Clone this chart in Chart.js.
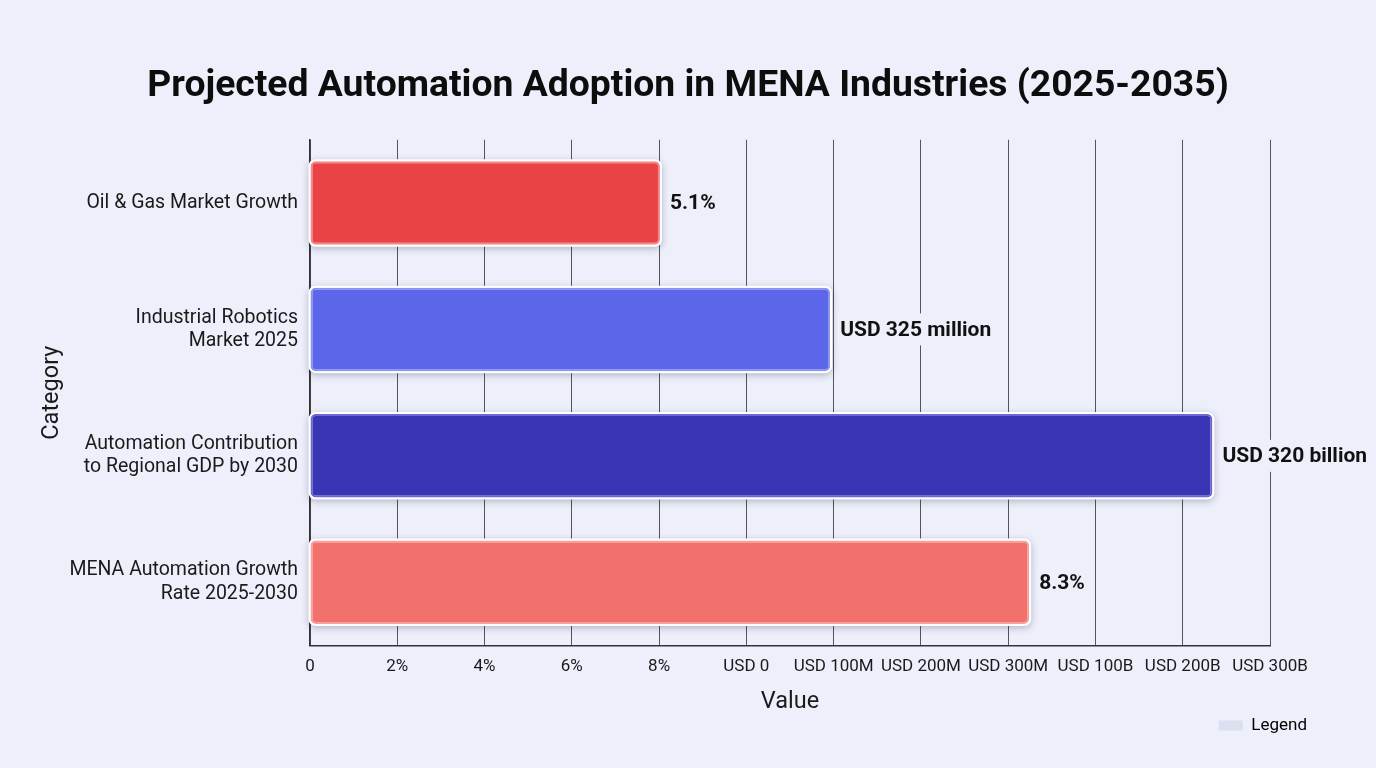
<!DOCTYPE html>
<html>
<head>
<meta charset="utf-8">
<script src="https://cdn.jsdelivr.net/npm/chart.js@4"></script>
<style>
    html, body { margin: 0; padding: 0; background: #edf0fb; }
    #wrap { width: 1376px; height: 768px; }
</style>
</head>
<body>
<div id="wrap"><canvas id="automationChart" width="1376" height="768"></canvas></div>
<script>
// Categories (multi-line labels as they appear on the y axis)
const categories = [
    'Oil & Gas Market Growth',
    ['Industrial Robotics', 'Market 2025'],
    ['Automation Contribution', 'to Regional GDP by 2030'],
    ['MENA Automation Growth', 'Rate 2025-2030']
];

// The x axis is a mixed scale: 12 evenly spaced ticks with these labels
const tickLabels = ['0', '2%', '4%', '6%', '8%', 'USD 0', 'USD 100M', 'USD 200M', 'USD 300M', 'USD 100B', 'USD 200B', 'USD 300B'];

// Bar lengths, in tick positions of the mixed axis
const barPositions = [4.01, 5.96, 10.34, 8.24];

// Text printed next to each bar
const valueLabels = ['5.1%', 'USD 325 million', 'USD 320 billion', '8.3%'];

const barColors = ['#e94346', '#5b66e9', '#3a35b4', '#f2716d'];
const barBorders = ['#f4878a', '#8a92f2', '#6b68cf', '#f8a09d'];

const pageBg = '#edf0fb';

Chart.defaults.font.family = 'Roboto, "Noto Sans", sans-serif';
Chart.defaults.color = '#1a1a1a';

// White halo with a soft drop shadow behind every bar
const barHalo = {
    id: 'barHalo',
    beforeDatasetsDraw(chart) {
        const ctx = chart.ctx;
        const meta = chart.getDatasetMeta(0);
        ctx.save();
        ctx.shadowColor = 'rgba(40, 40, 70, 0.3)';
        ctx.shadowBlur = 7;
        ctx.shadowOffsetY = 2;
        ctx.fillStyle = '#ffffff';
        meta.data.forEach(bar => {
            const left = Math.min(bar.base, bar.x) - 2;
            const top = bar.y - bar.height / 2 - 2;
            ctx.beginPath();
            ctx.roundRect(left, top, Math.abs(bar.x - bar.base) + 4, bar.height + 4, 7);
            ctx.fill();
        });
        ctx.restore();
    }
};

// Value text at the end of each bar, on a patch of page colour
const valueText = {
    id: 'valueText',
    afterDatasetsDraw(chart) {
        const ctx = chart.ctx;
        const meta = chart.getDatasetMeta(0);
        ctx.save();
        ctx.font = 'bold 21px Roboto, sans-serif';
        ctx.textBaseline = 'middle';
        ctx.textAlign = 'left';
        meta.data.forEach((bar, i) => {
            const text = valueLabels[i];
            const x = bar.x + 10;
            const w = ctx.measureText(text).width;
            ctx.fillStyle = pageBg;
            ctx.fillRect(x - 2, bar.y - 16, w + 4, 32);
            ctx.fillStyle = '#111111';
            ctx.fillText(text, x, bar.y + 1);
        });
        ctx.restore();
    }
};

const ctx = document.getElementById('automationChart').getContext('2d');

new Chart(ctx, {
    type: 'bar',
    data: {
        labels: categories,
        datasets: [{
            label: 'Value',
            data: barPositions,
            backgroundColor: barColors,
            borderColor: barBorders,
            borderWidth: 2,
            borderRadius: 5,
            borderSkipped: false,
            barPercentage: 0.66,
            categoryPercentage: 1
        }]
    },
    options: {
        indexAxis: 'y',
        responsive: false,
        animation: false,
        layout: {
            padding: { left: 66, right: 66, top: 10, bottom: 24 }
        },
        plugins: {
            title: {
                display: true,
                text: 'Projected Automation Adoption in MENA Industries (2025-2035)',
                color: '#0d0d0d',
                font: { size: 37.3, weight: 'bold' },
                padding: { top: 54, bottom: 31 }
            },
            legend: {
                display: true,
                position: 'bottom',
                align: 'end',
                onClick: null,
                labels: {
                    boxWidth: 24,
                    boxHeight: 10,
                    padding: 3,
                    color: '#222222',
                    font: { size: 17 },
                    generateLabels: () => [{
                        text: 'Legend',
                        fillStyle: '#dcdff0',
                        strokeStyle: '#dcdff0',
                        lineWidth: 0,
                        hidden: false
                    }]
                }
            },
            tooltip: { enabled: false }
        },
        scales: {
            x: {
                type: 'linear',
                min: 0,
                max: tickLabels.length - 1,
                ticks: {
                    stepSize: 1,
                    autoSkip: false,
                    maxRotation: 0,
                    padding: 13,
                    color: '#1a1a1a',
                    font: { size: 17, lineHeight: 1 },
                    callback: function(value) {
                        return tickLabels[value];
                    }
                },
                grid: {
                    display: true,
                    color: '#555555',
                    lineWidth: 1,
                    drawTicks: false
                },
                border: { display: true, color: '#333333', width: 1.5 },
                title: {
                    display: true,
                    text: 'Value',
                    color: '#1a1a1a',
                    font: { size: 23.5, lineHeight: 1 },
                    padding: { top: 2, bottom: 0 }
                }
            },
            y: {
                ticks: {
                    color: '#1a1a1a',
                    font: { size: 19.5 },
                    padding: 12
                },
                grid: { display: false, drawTicks: false },
                border: { display: true, color: '#333333', width: 1.5 },
                title: {
                    display: true,
                    text: 'Category',
                    color: '#1a1a1a',
                    font: { size: 23.5 },
                    // pulled out past the left padding so the title sits near the edge
                    padding: { top: -28, bottom: 0 }
                },
                afterFit: function(axis) {
                    axis.width = 244;
                }
            },
            // empty right-hand axis, only keeps room for the last tick label
            yRight: {
                type: 'category',
                position: 'right',
                display: true,
                ticks: { display: false },
                grid: { display: false, drawTicks: false },
                border: { display: false },
                afterFit: function(axis) {
                    axis.width = 40;
                }
            }
        }
    },
    plugins: [barHalo, valueText]
});
</script>
</body>
</html>
